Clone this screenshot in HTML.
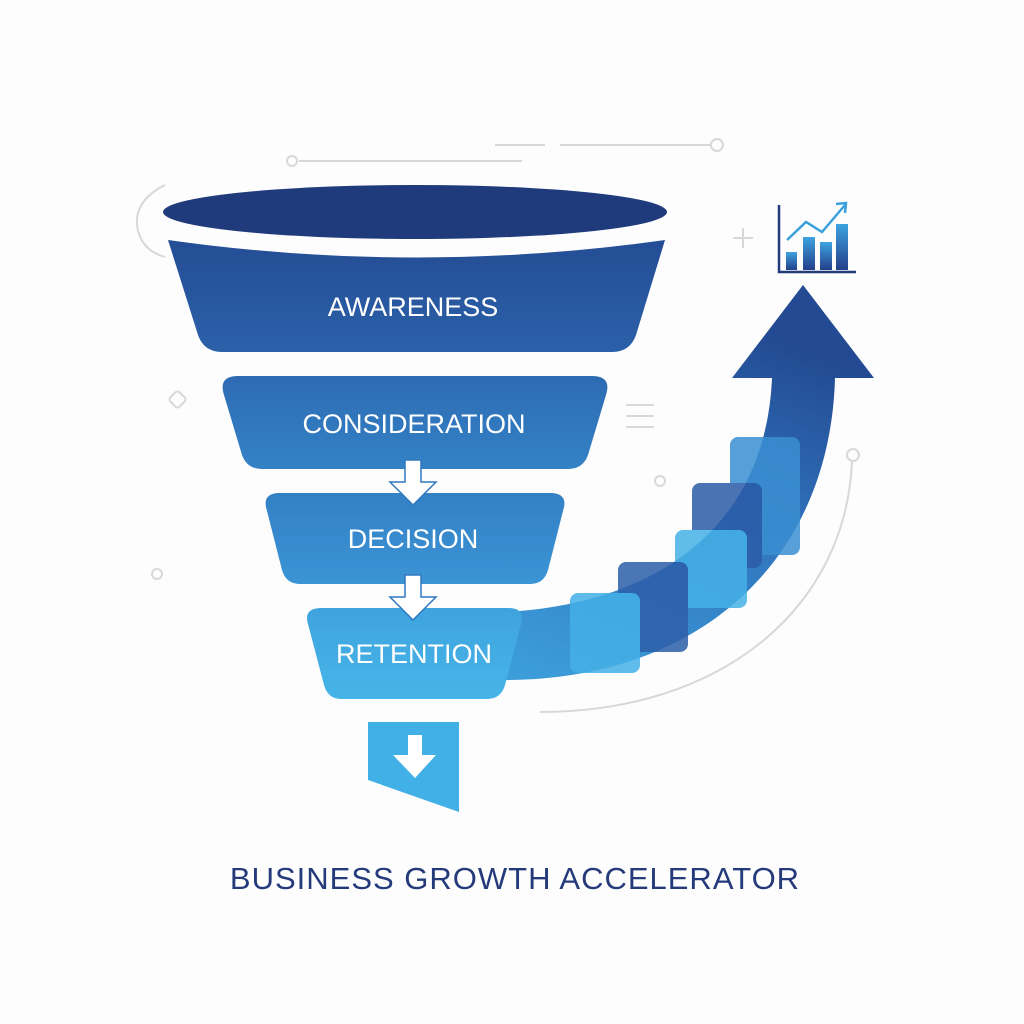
<!DOCTYPE html>
<html><head><meta charset="utf-8"><style>
html,body{margin:0;padding:0;background:#fdfdfd;}
svg{display:block}
text{font-family:"Liberation Sans",sans-serif;}
</style></head><body>
<svg width="1024" height="1024" viewBox="0 0 1024 1024" xmlns="http://www.w3.org/2000/svg">
<defs>
<linearGradient id="gA" x1="0" y1="0" x2="0" y2="1"><stop offset="0" stop-color="#244d95"/><stop offset="1" stop-color="#2b61a9"/></linearGradient>
<linearGradient id="gC" x1="0" y1="0" x2="0" y2="1"><stop offset="0" stop-color="#2d6bb3"/><stop offset="1" stop-color="#3482c6"/></linearGradient>
<linearGradient id="gD" x1="0" y1="0" x2="0" y2="1"><stop offset="0" stop-color="#3380c5"/><stop offset="1" stop-color="#3b94d5"/></linearGradient>
<linearGradient id="gR" x1="0" y1="0" x2="0" y2="1"><stop offset="0" stop-color="#3fa3de"/><stop offset="1" stop-color="#46b5e8"/></linearGradient>
<linearGradient id="gArr" x1="0" y1="1" x2="0.4" y2="0"><stop offset="0" stop-color="#3d9fdc"/><stop offset="0.6" stop-color="#2f72bb"/><stop offset="1" stop-color="#234a92"/></linearGradient>
<linearGradient id="gBar" x1="0" y1="0" x2="0" y2="1"><stop offset="0" stop-color="#3da3e0"/><stop offset="1" stop-color="#243f8a"/></linearGradient>
</defs>
<g stroke="#d8d8d8" stroke-width="2" fill="none">
<path d="M165 185 Q135 200 137 225 Q140 250 165 257"/>
<line x1="299" y1="161" x2="522" y2="161"/>
<circle cx="292" cy="161" r="5"/>
<line x1="495" y1="145" x2="545" y2="145"/>
<line x1="560" y1="145" x2="711" y2="145"/>
<circle cx="717" cy="145" r="6"/>
<line x1="733" y1="238" x2="753" y2="238"/><line x1="743" y1="228" x2="743" y2="248"/>
<rect x="171" y="393" width="13" height="13" rx="3" transform="rotate(45 177.5 399.5)"/>
<line x1="626" y1="405" x2="654" y2="405"/><line x1="626" y1="416" x2="654" y2="416"/><line x1="626" y1="427" x2="654" y2="427"/>
<circle cx="660" cy="481" r="5"/>
<circle cx="157" cy="574" r="5"/>
<circle cx="853" cy="455" r="6"/>
<path d="M852 462 C845 610 720 712 540 712"/>
</g>
<path d="M505 612 C640 605 765 540 772 378 L732 378 L803 285 L874 378 L835 378 C830 560 700 680 505 680 Z" fill="url(#gArr)"/>
<g opacity="0.85">
<rect x="730" y="437" width="70" height="118" rx="8" fill="#3a8fd2"/>
<rect x="692" y="483" width="70" height="85" rx="8" fill="#2b5ca8"/>
<rect x="675" y="530" width="72" height="78" rx="8" fill="#45b2e6"/>
<rect x="618" y="562" width="70" height="90" rx="8" fill="#2d5fa9"/>
<rect x="570" y="593" width="70" height="80" rx="8" fill="#44b0e6"/>
</g>
<g>
<polyline points="779,205 779,272 856,272" fill="none" stroke="#22397a" stroke-width="2.5"/>
<rect x="786" y="252" width="11" height="18" fill="url(#gBar)"/>
<rect x="803" y="237" width="12" height="33" fill="url(#gBar)"/>
<rect x="820" y="242" width="12" height="28" fill="url(#gBar)"/>
<rect x="836" y="224" width="12" height="46" fill="url(#gBar)"/>
<polyline points="787,240 806,222 822,232 845,205" fill="none" stroke="#3aa0dd" stroke-width="2.5"/>
<polyline points="836,204 846,203 845,213" fill="none" stroke="#3aa0dd" stroke-width="2.5"/>
</g>
<ellipse cx="415" cy="212" rx="252" ry="27" fill="#1f3b7c"/>
<path d="M168 240 Q415 275 665 240 L636 335 Q630 352 612 352 L222 352 Q204 352 198 335 Z" fill="url(#gA)"/>
<text x="413" y="316" text-anchor="middle" font-size="27" fill="#fff">AWARENESS</text>
<path d="M238 376 L592 376 Q612 376 606 395 L588 455 Q583 469 568 469 L262 469 Q247 469 242 455 L224 395 Q218 376 238 376 Z" fill="url(#gC)"/>
<text x="414" y="433" text-anchor="middle" font-size="27" fill="#fff">CONSIDERATION</text>
<path d="M280 493 L550 493 Q569 493 563 511 L548 570 Q544 584 530 584 L300 584 Q286 584 282 570 L267 511 Q261 493 280 493 Z" fill="url(#gD)"/>
<text x="413" y="548" text-anchor="middle" font-size="27" fill="#fff">DECISION</text>
<path d="M322 608 L508 608 Q526 608 521 624 L505 685 Q501 699 487 699 L341 699 Q328 699 324 685 L308 624 Q303 608 322 608 Z" fill="url(#gR)"/>
<text x="414" y="663" text-anchor="middle" font-size="27" fill="#fff">RETENTION</text>
<g fill="#fff" stroke="#2f78bf" stroke-width="1.5">
<path d="M405 460 L421 460 L421 482 L436 482 L413 505 L390 482 L405 482 Z"/>
<path d="M405 575 L421 575 L421 597 L436 597 L413 620 L390 597 L405 597 Z"/>
</g>
<path d="M368 722 L459 722 L459 812 L368 780 Z" fill="#41b0e6"/>
<path d="M408 735 L422 735 L422 755 L436 755 L415 778 L393 755 L408 755 Z" fill="#fff"/>
<text x="515" y="889" text-anchor="middle" font-size="31" fill="#243a7a" letter-spacing="1" font-weight="500">BUSINESS GROWTH ACCELERATOR</text>
</svg>
</body></html>
